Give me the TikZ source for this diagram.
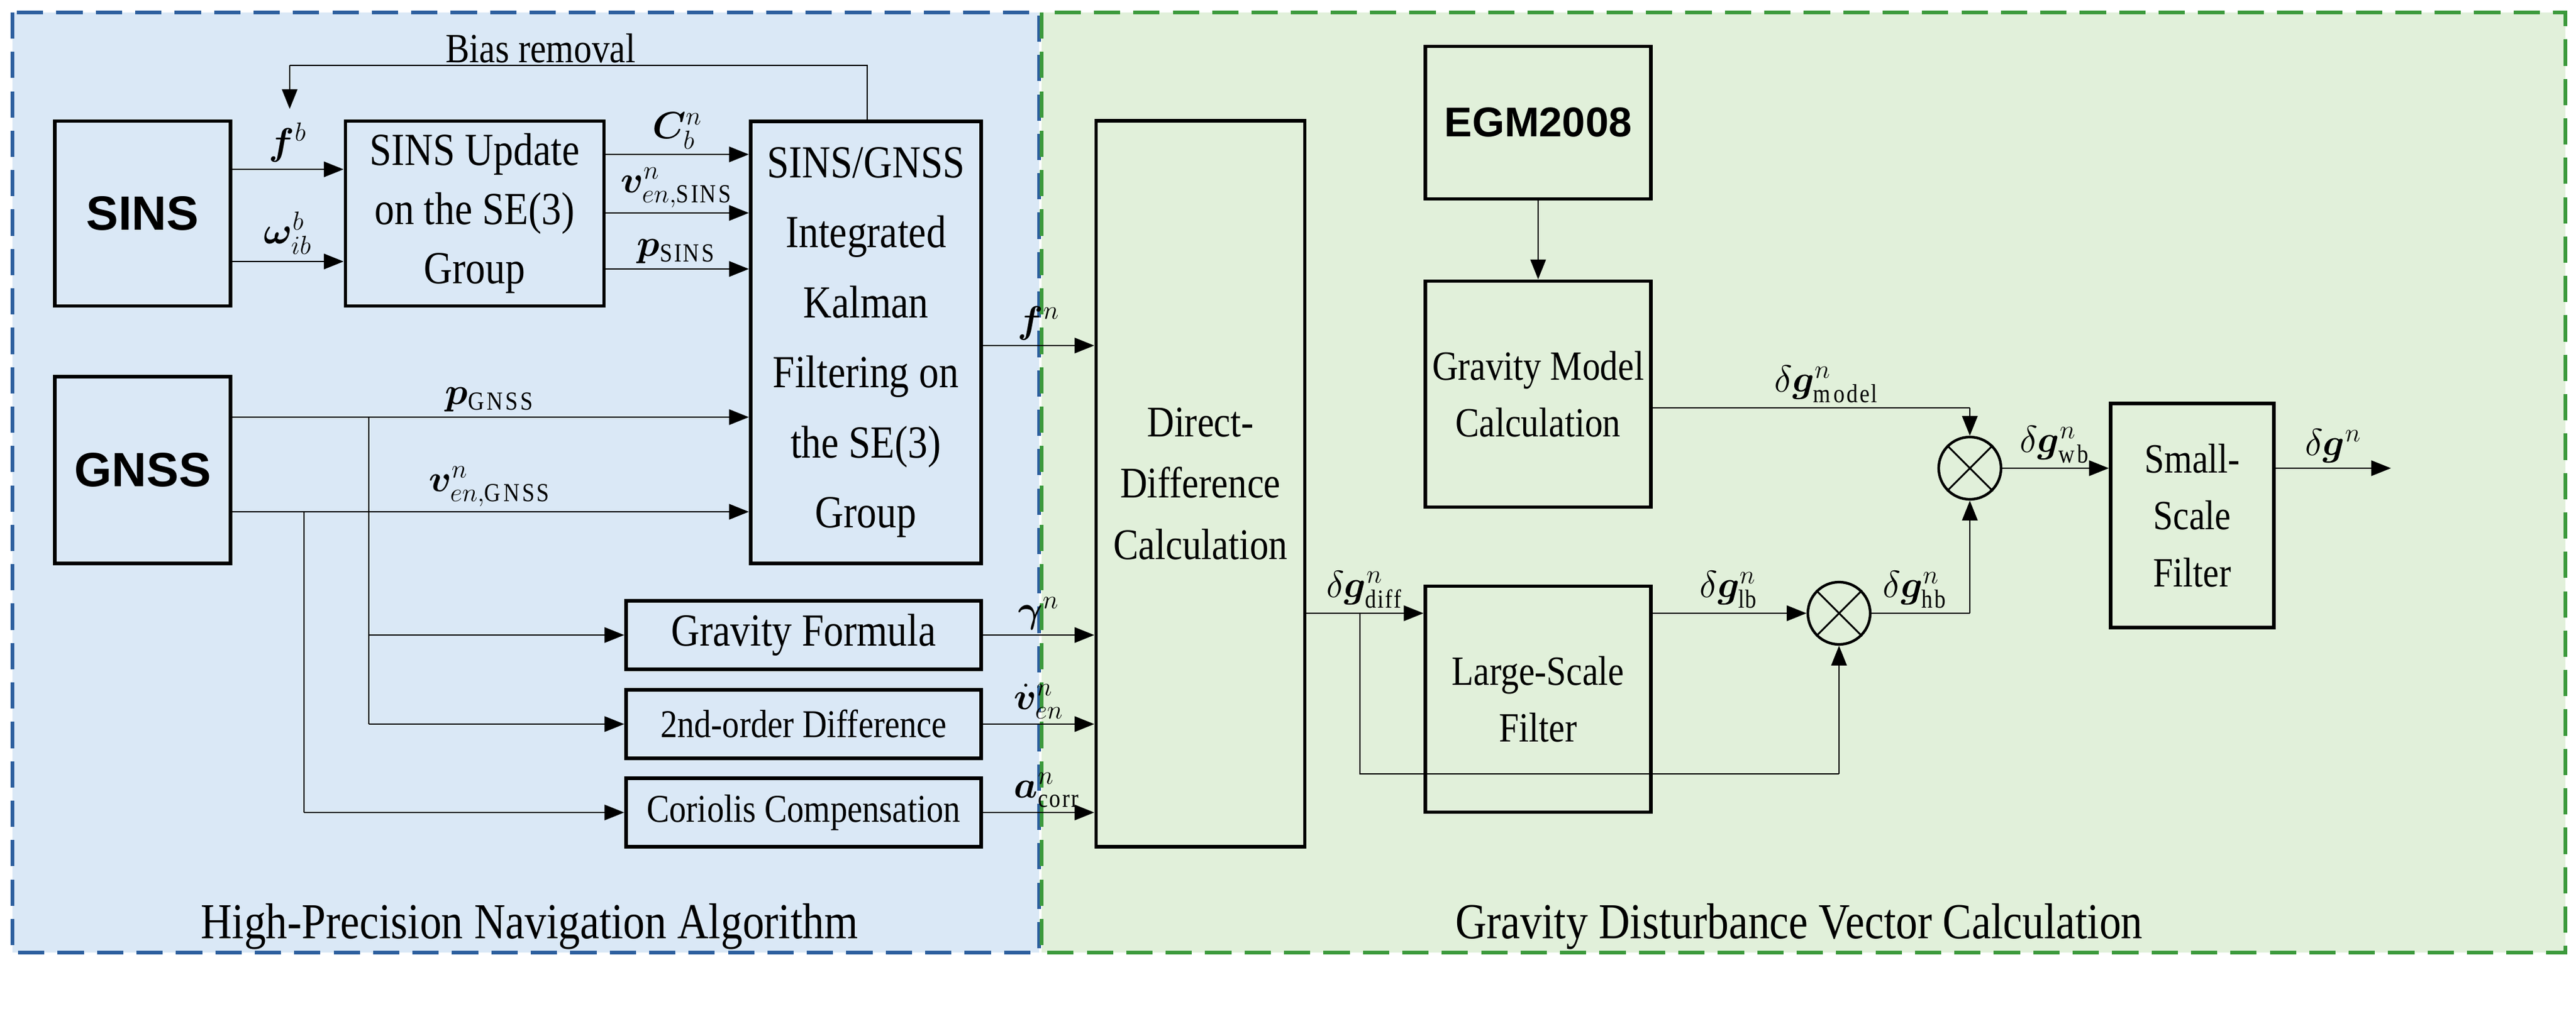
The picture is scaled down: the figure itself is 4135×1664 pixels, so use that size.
\documentclass[tikz,border=0pt]{standalone}
\usepackage{fontspec}
\usepackage{amsmath,bm}
\setmainfont[FakeStretch=0.86]{Liberation Serif}
\newfontfamily\hsans{Liberation Sans}
\usetikzlibrary{arrows.meta}
\definecolor{bluefill}{HTML}{DAE8F6}
\definecolor{greenfill}{HTML}{E1F0DA}
\definecolor{blueedge}{HTML}{2D5F9E}
\definecolor{greenedge}{HTML}{3C9A3C}
\tikzset{
  blk/.style={draw, line width=1.6pt, align=center, font=\fontsize{21}{27}\selectfont, inner sep=2pt},
  bigt/.style={font=\hsans\bfseries\fontsize{22}{26}\selectfont},
  conn/.style={line width=0.8pt, -{Triangle[length=9pt,width=7pt]}},
  wire/.style={line width=0.8pt},
  lbl/.style={font=\fontsize{17}{19}\selectfont, inner sep=1pt},
  mixer/.style={draw, circle, line width=1.2pt, minimum size=1.0cm, inner sep=0pt}
}
\begin{document}
\begin{tikzpicture}[x=0.01cm,y=-0.01cm]
\useasboundingbox (0,0) rectangle (4135,1664);
\fill[white] (0,0) rectangle (4135,1664);
% panels
\draw[fill=bluefill, draw=blueedge, line width=1.8pt, dash pattern=on 12pt off 6pt] (20,20) rectangle (1668,1530);
\draw[fill=greenfill, draw=greenedge, line width=1.8pt, dash pattern=on 12pt off 6pt] (1672,20) rectangle (4118,1530);
\node[lbl, font=\fontsize{23}{25}\selectfont] (t1) at (850,1488) {High-Precision Navigation Algorithm};
\node[lbl, font=\fontsize{23}{25}\selectfont] (t2) at (2888,1488) {Gravity Disturbance Vector Calculation};

% blocks left
\node[blk, bigt, minimum width=2.82cm, minimum height=2.97cm] (sins) at (229,343) {SINS};
\node[blk, bigt, minimum width=2.82cm, minimum height=3.0cm] (gnss) at (229,755) {GNSS};
\node[blk, minimum width=4.15cm, minimum height=2.97cm] (upd) at (762,343) {SINS Update\\on the SE(3)\\Group};
\node[blk, minimum width=3.7cm, minimum height=7.1cm, font=\fontsize{21}{32}\selectfont] (kf) at (1390,550) {SINS/GNSS\\Integrated\\Kalman\\Filtering on\\the SE(3)\\Group};
\node[blk, minimum width=5.7cm, minimum height=1.1cm] (gf) at (1290,1020) {Gravity Formula};
\node[blk, minimum width=5.7cm, minimum height=1.1cm, font=\fontsize{18}{22}\selectfont] (sod) at (1290,1163) {2nd-order Difference};
\node[blk, minimum width=5.7cm, minimum height=1.1cm, font=\fontsize{18}{22}\selectfont] (cor) at (1290,1305) {Coriolis Compensation};

% blocks right
\node[blk, minimum width=3.35cm, minimum height=11.65cm, font=\fontsize{20}{28}\selectfont] (dd) at (1927,777) {Direct-\\Difference\\Calculation};
\node[blk, bigt, font=\hsans\bfseries\fontsize{19}{22}\selectfont, minimum width=3.62cm, minimum height=2.45cm] (egm) at (2469,197) {EGM2008};
\node[blk, minimum width=3.62cm, minimum height=3.63cm, font=\fontsize{19}{26}\selectfont] (gmc) at (2469,633) {Gravity Model\\Calculation};
\node[blk, minimum width=3.62cm, minimum height=3.63cm, font=\fontsize{19}{26}\selectfont] (lsf) at (2469,1123) {Large-Scale\\Filter};
\node[mixer] (m1) at (2952,985) {};
\node[mixer] (m2) at (3162,752) {};
\node[blk, minimum width=2.62cm, minimum height=3.6cm, font=\fontsize{19}{26}\selectfont] (ssf) at (3519,828) {Small-\\Scale\\Filter};
\foreach \m in {m1,m2}{
  \draw[line width=0.8pt] (\m.north east) -- (\m.south west);
  \draw[line width=0.8pt] (\m.north west) -- (\m.south east);
}
\coordinate (out) at (3838,752);

% bias removal
\coordinate (br1) at (1392,105);
\coordinate (br2) at (465,105);
\coordinate (br3) at (465,175);
\draw[wire] (kf.north -| br1) -- (br1) -- (br2);
\draw[conn] (br2) -- (br3);
\node[lbl, font=\fontsize{19}{21}\selectfont] (bl) at (868,78) {Bias removal};

% SINS -> update
\draw[conn] (sins.east |- 0,272) -- (upd.west |- 0,272) node[lbl, midway, above=2pt] (lfb) {$\bm{f}^b$};
\draw[conn] (sins.east |- 0,420) -- (upd.west |- 0,420) node[lbl, midway, above=2pt] (lw) {$\bm{\omega}^b_{ib}$};
% update -> kf
\draw[conn] (upd.east |- 0,248) -- (kf.west |- 0,248) node[lbl, midway, above=1pt] {$\bm{C}^n_b$};
\draw[conn] (upd.east |- 0,342) -- (kf.west |- 0,342) node[lbl, midway, above=1pt] {$\bm{v}^n_{en,\mathrm{SINS}}$};
\draw[conn] (upd.east |- 0,432) -- (kf.west |- 0,432) node[lbl, midway, above=1pt] {$\bm{p}_{\mathrm{SINS}}$};
% gnss -> kf
\draw[conn] (gnss.east |- 0,670) -- (kf.west |- 0,670) node[lbl, midway, above=1pt] {$\bm{p}_{\mathrm{GNSS}}$};
\draw[conn] (gnss.east |- 0,822) -- (kf.west |- 0,822) node[lbl, midway, above=1pt] {$\bm{v}^n_{en,\mathrm{GNSS}}$};
% branches
\coordinate (bp) at (592,670);
\coordinate (bv) at (488,822);
\draw[wire] (bp) -- (bp |- sod.west);
\draw[conn] (bp |- gf.west) -- (gf.west);
\draw[conn] (bp |- sod.west) -- (sod.west);
\draw[wire] (bv) -- (bv |- cor.west);
\draw[conn] (bv |- cor.west) -- (cor.west);

% into dd
\draw[conn] (kf.east |- 0,555) -- (dd.west |- 0,555) node[lbl, midway, above=1pt] {$\bm{f}^n$};
\draw[conn] (gf.east) -- (dd.west |- gf.east) node[lbl, midway, above=1pt] {$\bm{\gamma}^n$};
\draw[conn] (sod.east) -- (dd.west |- sod.east) node[lbl, midway, above=1pt] {$\dot{\bm{v}}^n_{en}$};
\draw[conn] (cor.east) -- (dd.west |- cor.east) node[lbl, midway, above=1pt, xshift=4pt] {$\bm{a}^n_{\mathrm{corr}}$};

% right side
\draw[conn] (egm.south) -- (gmc.north);
\draw[conn] (dd.east |- m1) -- (lsf.west |- m1) node[lbl, midway, above=1pt] {$\delta\bm{g}^n_{\mathrm{diff}}$};
\coordinate (dbr) at (2183,985);
\draw[wire] (dbr) -- (2183,1243) -- (m1.south |- 0,1243);
\draw[conn] (m1.south |- 0,1243) -- (m1.south);
\draw[conn] (lsf.east |- m1) -- (m1.west) node[lbl, midway, above=1pt] {$\delta\bm{g}^n_{\mathrm{lb}}$};
\draw[wire] (m1.east) -- (m2 |- m1.east) node[lbl, pos=0.45, above=1pt] {$\delta\bm{g}^n_{\mathrm{hb}}$};
\draw[conn] (m2 |- m1.east) -- (m2.south);
\draw[wire] (gmc.east |- 0,655) -- (m2 |- 0,655) node[lbl, pos=0.55, above=1pt] {$\delta\bm{g}^n_{\mathrm{model}}$};
\draw[conn] (m2 |- 0,655) -- (m2.north);
\draw[conn] (m2.east) -- (ssf.west |- m2.east) node[lbl, midway, above=1pt] {$\delta\bm{g}^n_{\mathrm{wb}}$};
\draw[conn] (ssf.east |- out) -- (out) node[lbl, midway, above=1pt] {$\delta\bm{g}^n$};
\end{tikzpicture}
\end{document}
